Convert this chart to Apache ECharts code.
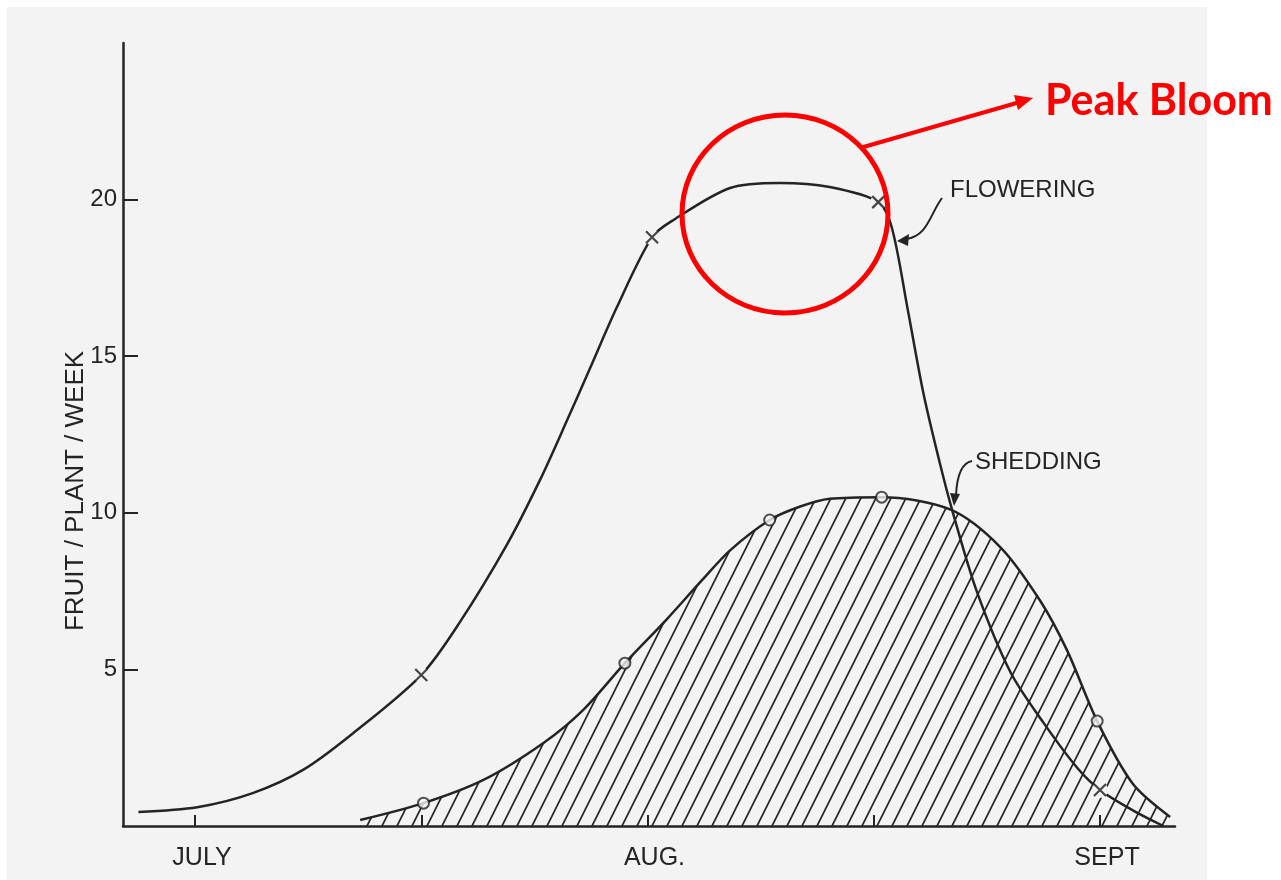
<!DOCTYPE html>
<html>
<head>
<meta charset="utf-8">
<script src="https://cdn.jsdelivr.net/npm/echarts@6/dist/echarts.min.js"></script>
<style>
html,body{margin:0;padding:0;background:#fff;}
#chart{width:1281px;height:880px;}
</style>
</head>
<body>
<div id="chart"></div>
<script>
// ---- data (x in weeks from start of July, y in fruit/plant/week) ----
const flowerWeeks  = [-0.50, 0.02, 0.51, 0.955, 1.40, 2.00, 2.34, 2.76, 3.05, 3.29, 3.49, 3.73, 4.04, 4.23, 4.73, 5.17, 5.61, 6.04, 6.16, 6.30, 6.44, 6.59, 6.70, 6.91, 7.21, 7.50, 7.80, 8.00, 8.29, 8.56];
const flowerValues = [0.45, 0.60, 1.05, 1.79, 2.97, 4.82, 6.50, 9.00, 11.05, 12.96, 14.60, 16.57, 18.80, 19.35, 20.37, 20.53, 20.40, 19.92, 19.10, 16.50, 13.80, 11.50, 10.00, 7.50, 4.90, 3.30, 1.85, 1.15, 0.50, 0.00];
const shedWeeks  = [1.46, 2.02, 2.55, 3.08, 3.43, 3.80, 4.17, 4.47, 4.73, 5.08, 5.35, 5.61, 6.07, 6.68, 7.12, 7.47, 7.71, 7.975, 8.29, 8.62];
const shedValues = [0.19, 0.73, 1.47, 2.65, 3.70, 5.20, 6.60, 7.80, 8.80, 9.77, 10.20, 10.45, 10.50, 10.10, 8.90, 7.20, 5.60, 3.35, 1.35, 0.29];
const flowerMarkWeeks  = [2.00, 4.04, 6.04, 8.00];
const flowerMarkValues = [4.82, 18.80, 19.92, 1.15];
const shedMarkWeeks  = [2.02, 3.80, 5.08, 6.07, 7.975];
const shedMarkValues = [0.73, 5.20, 9.77, 10.50, 3.35];
const xTickValues  = [0, 2, 4, 6, 8];
const xLabelValues = [0, 4, 8];
const xLabelTexts  = ['JULY', 'AUG.', 'SEPT'];
const yTickValues  = [5, 10, 15, 20];
const yAxisTitle = 'FRUIT / PLANT / WEEK';
const seriesLabels = ['FLOWERING', 'SHEDDING'];
const calloutText = 'Peak Bloom';

const zip = (a, b) => a.map((v, i) => [v, b[i]]);

// hatch pattern
const hatch = document.createElement('canvas');
hatch.width = 15; hatch.height = 30;
(function () {
  const c = hatch.getContext('2d');
  c.strokeStyle = '#262626';
  c.lineWidth = 1.7;
  c.beginPath();
  for (let k = -1; k <= 1; k++) {
    c.moveTo(k * 15 - 15, 60);
    c.lineTo(k * 15 + 30, -30);
  }
  c.stroke();
})();

const FONT = "'Liberation Sans', Arial, sans-serif";
const INK = '#242424';
const BG = '#f3f3f3';

const chart = echarts.init(document.getElementById('chart'), null, {renderer: 'canvas'});
const option = {
  backgroundColor: '#ffffff',
  animation: false,
  grid: {left: 123, right: 106, top: 43, bottom: 54},
  xAxis: {
    type: 'value', min: -0.6365, max: 8.663,
    splitLine: {show: false},
    axisLine: {onZero: false, lineStyle: {color: INK, width: 2.5}},
    axisTick: {inside: true, length: 11, lineStyle: {color: INK, width: 2}, customValues: xTickValues},
    axisLabel: {
      customValues: xLabelValues, margin: 20, padding: [0, 0, 0, 14],
      formatter: v => { const i = xLabelValues.indexOf(v); return i >= 0 ? xLabelTexts[i] : ''; },
      color: INK, fontSize: 25, fontFamily: FONT
    }
  },
  yAxis: {
    type: 'value', min: 0, max: 25, interval: 5,
    splitLine: {show: false},
    axisLine: {show: true, onZero: false, lineStyle: {color: INK, width: 2.5}},
    axisTick: {show: true, inside: true, length: 15, lineStyle: {color: INK, width: 2}, customValues: yTickValues},
    axisLabel: {customValues: yTickValues, margin: 6, color: INK, fontSize: 24, fontFamily: FONT}
  },
  graphic: [
    {type: 'rect', z: -100, silent: true, shape: {x: 7, y: 7, width: 1200, height: 880}, style: {fill: BG}},
    {type: 'text', x: 76, y: 491, rotation: Math.PI / 2, z: 10,
      style: {text: yAxisTitle, fill: INK, font: "26px " + FONT, textAlign: 'center', textVerticalAlign: 'middle'}},
    {type: 'text', x: 950, y: 190, z: 10,
      style: {text: seriesLabels[0], fill: INK, font: "24px " + FONT, textAlign: 'left', textVerticalAlign: 'middle'}},
    {type: 'text', x: 975, y: 462, z: 10,
      style: {text: seriesLabels[1], fill: INK, font: "24px " + FONT, textAlign: 'left', textVerticalAlign: 'middle'}},
    {type: 'bezierCurve', z: 10, shape: {x1: 942, y1: 198, cpx1: 930, cpy1: 214, cpx2: 928, cpy2: 236, x2: 906, y2: 239},
      style: {stroke: INK, lineWidth: 2, fill: null}},
    {type: 'polygon', z: 10, shape: {points: [[897, 241], [909, 234], [908, 246]]}, style: {fill: INK}},
    {type: 'bezierCurve', z: 10, shape: {x1: 972, y1: 461, cpx1: 961, cpy1: 463, cpx2: 957, cpy2: 476, x2: 956, y2: 495},
      style: {stroke: INK, lineWidth: 2, fill: null}},
    {type: 'polygon', z: 10, shape: {points: [[954, 506], [950, 493], [960, 494]]}, style: {fill: INK}},
    {type: 'ellipse', z: 20, shape: {cx: 785, cy: 214, rx: 103, ry: 99}, style: {stroke: '#ff0000', lineWidth: 5, fill: null}},
    {type: 'line', z: 20, shape: {x1: 860, y1: 148, x2: 1020, y2: 102}, style: {stroke: '#ff0000', lineWidth: 4}},
    {type: 'polygon', z: 20, shape: {points: [[1033, 98], [1018, 110], [1014, 95]]}, style: {fill: '#ff0000'}},
    {type: 'text', x: 1045, y: 101, z: 20,
      style: {text: calloutText, fill: '#ff0000', font: "bold 43px Lato, 'Open Sans', sans-serif", textAlign: 'left', textVerticalAlign: 'middle'}}
  ],
  series: [
    {
      type: 'line', name: 'SHEDDING', data: zip(shedWeeks, shedValues),
      smooth: 0.3, showSymbol: false, z: 2,
      lineStyle: {color: INK, width: 2.5},
      areaStyle: {color: {image: hatch, repeat: 'repeat'}, opacity: 1}
    },
    {
      type: 'line', name: 'FLOWERING', data: zip(flowerWeeks, flowerValues),
      smooth: 0.3, showSymbol: false, z: 3,
      lineStyle: {color: INK, width: 2.5}
    },
    {
      type: 'scatter', data: zip(flowerMarkWeeks, flowerMarkValues), z: 4,
      symbol: 'circle', symbolSize: 16, itemStyle: {color: BG, opacity: 1}
    },
    {
      type: 'scatter', data: zip(flowerMarkWeeks, flowerMarkValues), z: 5,
      symbol: 'path://M0,0L10,10M10,0L0,10', symbolSize: 12, symbolKeepAspect: true,
      itemStyle: {color: 'rgba(0,0,0,0)', borderColor: '#1a1a1a', borderWidth: 2.2}
    },
    {
      type: 'scatter', data: zip(shedMarkWeeks, shedMarkValues), z: 5,
      symbol: 'circle', symbolSize: 11,
      itemStyle: {color: BG, borderColor: INK, borderWidth: 2}
    }
  ]
};
chart.setOption(option);
</script>
</body>
</html>
